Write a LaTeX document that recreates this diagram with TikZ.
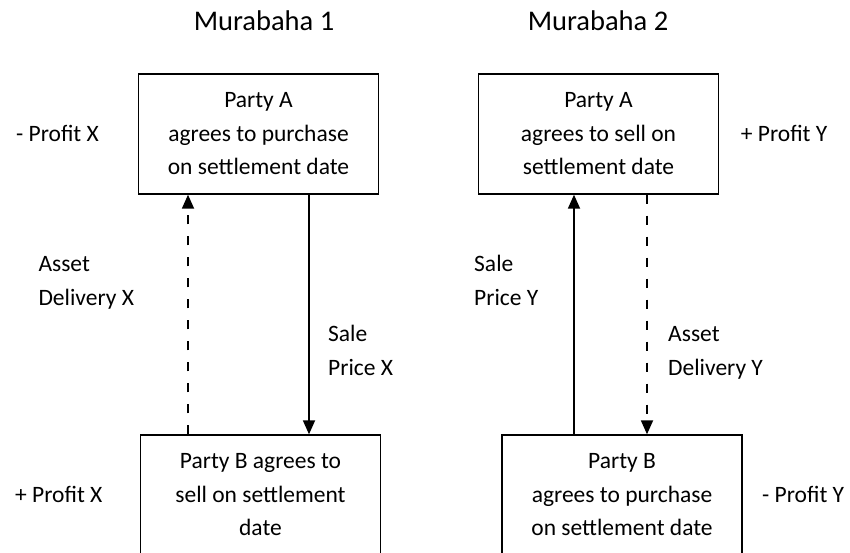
\documentclass[tikz,border=0pt]{standalone}
\usepackage{fontspec}
\setmainfont{Carlito}
\usetikzlibrary{arrows.meta}
\begin{document}
\begin{tikzpicture}[x=1pt,y=-1pt,
  box/.style={draw, line width=1.4pt, inner sep=0pt, minimum width=240pt, minimum height=120pt,
    align=center, font=\fontsize{23.5}{33.5}\selectfont},
  lbl/.style={font=\fontsize{23.5}{33.5}\selectfont, inner sep=0pt, align=left, anchor=base west},
  ttl/.style={font=\fontsize{28.5}{34}\selectfont, inner sep=0pt, anchor=base},
  arr/.style={line width=1.8pt, -{Triangle[length=14pt,width=12pt]}},
  dsh/.style={arr, dash pattern=on 9pt off 12pt},
]
\useasboundingbox (0,0) rectangle (850,552);
\clip (0,0) rectangle (850,552);

\node[ttl] (t1) at (264,30.7) {Murabaha 1};
\node[ttl] (t2) at (598,30.7) {Murabaha 2};

\node[box] (a1) at (258.5,134) {Party A\\agrees to purchase\\on settlement date};
\node[box] (b1) at (260.5,495) {Party B agrees to\\sell on settlement\\date};
\node[box] (a2) at (598.5,134) {Party A\\agrees to sell on\\settlement date};
\node[box] (b2) at (622,495) {Party B\\agrees to purchase\\on settlement date};

\draw[dsh] ([xshift=-72.5pt]b1.north) -- ([xshift=-70.5pt]a1.south);
\draw[arr] ([xshift=50.5pt]a1.south) -- ([xshift=48.5pt]b1.north);
\draw[arr] ([xshift=-48pt]b2.north) -- ([xshift=-24.5pt]a2.south);
\draw[dsh] ([xshift=48.5pt]a2.south) -- ([xshift=25pt]b2.north);

\node[lbl] (pxa) at (16,141.7) {- Profit X};
\node[lbl] (pya) at (740.7,141.7) {+ Profit Y};
\node[lbl] (pxb) at (15,502) {+ Profit X};
\node[lbl] (pyb) at (762,502) {- Profit Y};

\node[lbl] (adx) at (38.3,305.2) {Asset\\Delivery X};
\node[lbl] (spx) at (328,375.2) {Sale\\Price X};
\node[lbl] (spy) at (474,305.2) {Sale\\Price Y};
\node[lbl] (ady) at (668,375.2) {Asset\\Delivery Y};
\end{tikzpicture}
\end{document}
